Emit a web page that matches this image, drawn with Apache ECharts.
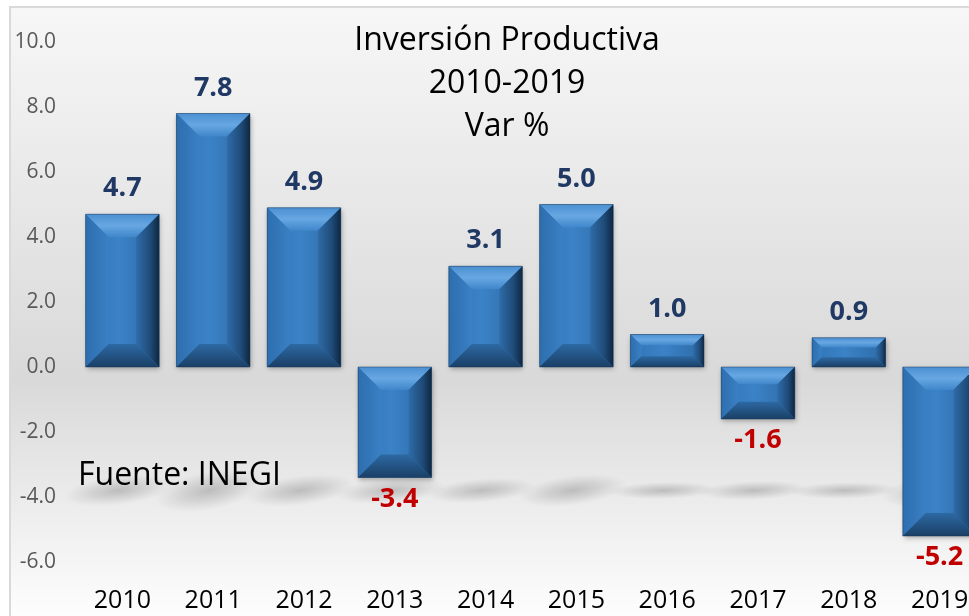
<!DOCTYPE html>
<html>
<head>
<meta charset="utf-8">
<script src="https://cdn.jsdelivr.net/npm/echarts@6/dist/echarts.min.js"></script>
<style>
  html, body { margin: 0; padding: 0; background: #fff; }
  #chart { width: 969px; height: 616px; }
</style>
</head>
<body>
<div id="chart"></div>
<script>
var years = ["2010", "2011", "2012", "2013", "2014", "2015", "2016", "2017", "2018", "2019"];
var values = [4.7, 7.8, 4.9, -3.4, 3.1, 5.0, 1.0, -1.6, 0.9, -5.2];
var yTicks = [-6, -4, -2, 0, 2, 4, 6, 8, 10];

var chart = echarts.init(document.getElementById("chart"));
var FONT = "'Open Sans', Lato, sans-serif";
var LG = echarts.graphic.LinearGradient;
var RG = echarts.graphic.RadialGradient;

// bevelled bar, roughly like the excel 3d look
function renderBar(params, api) {
  var idx = api.value(0);
  var v = api.value(1);
  var top = api.coord([idx, Math.max(v, 0)]);
  var bot = api.coord([idx, Math.min(v, 0)]);
  var w = api.size([1, 0])[0] * 0.81;
  var x0 = top[0] - w / 2, x1 = top[0] + w / 2;
  var y0 = top[1], y1 = bot[1];
  var h = y1 - y0;
  var d = Math.min(23, h / 3);
  var poly = function (pts, fill) {
    return { type: "polygon", shape: { points: pts }, style: { fill: fill } };
  };
  var positive = v >= 0;
  var label = {
    type: "text",
    style: {
      text: v.toFixed(1),
      x: top[0],
      y: positive ? y0 - 12 : y1 + 8,
      align: "center",
      verticalAlign: positive ? "bottom" : "top",
      font: "bold 27px " + FONT,
      fill: positive ? "#1f3864" : "#c00000"
    }
  };
  return {
    type: "group",
    children: [
      {
        type: "rect",
        shape: { x: x0, y: y0, width: w, height: h },
        style: {
          fill: new LG(0, 0, 1, 0, [
            { offset: 0, color: "#3074b6" },
            { offset: 0.45, color: "#3b82c6" },
            { offset: 1, color: "#2c6aa6" }
          ]),
          shadowBlur: 5,
          shadowColor: "rgba(0,0,0,0.3)",
          shadowOffsetX: 1,
          shadowOffsetY: 2
        }
      },
      poly([[x0, y0], [x1, y0], [x1 - d, y0 + d], [x0 + d, y0 + d]],
        new LG(0, 0, 0, 1, [{ offset: 0, color: "#4c90d2" }, { offset: 0.5, color: "#67a7e2" }, { offset: 1, color: "#3f86ca" }])),
      poly([[x0, y0], [x0 + d, y0 + d], [x0 + d, y1 - d], [x0, y1]],
        new LG(0, 0, 1, 0, [{ offset: 0, color: "#2d6eae" }, { offset: 1, color: "#3a80c4" }])),
      poly([[x1, y0], [x1 - d, y0 + d], [x1 - d, y1 - d], [x1, y1]],
        new LG(0, 0, 1, 0, [{ offset: 0, color: "#2f6ca8" }, { offset: 0.6, color: "#1f4c7a" }, { offset: 1, color: "#0f2740" }])),
      poly([[x0, y1], [x0 + d, y1 - d], [x1 - d, y1 - d], [x1, y1]],
        new LG(0, 0, 0, 1, [{ offset: 0, color: "#2d69a3" }, { offset: 1, color: "#1a3f66" }])),
      {
        type: "rect",
        shape: { x: x0, y: y0, width: w, height: h },
        style: { fill: "none", stroke: "rgba(20,50,80,0.45)", lineWidth: 1 }
      },
      label
    ]
  };
}

// soft floor shadow under each bar (circle stretched sideways)
function renderShadow(params, api) {
  var idx = api.value(0);
  var v = Math.abs(api.value(1));
  var c = api.coord([idx, -3.8]);
  var w = api.size([1, 0])[0] * 0.81;
  var ry = 7 + v * 1.6;
  var rx = w * 0.75;
  return {
    type: "circle",
    shape: { cx: c[0] - 4, cy: c[1], r: ry },
    scaleX: rx / ry,
    rotation: v * 0.025,
    originX: c[0] - 4,
    originY: c[1],
    style: {
      fill: new RG(0.5, 0.5, 0.5, [
        { offset: 0, color: "rgba(120,120,120,0.4)" },
        { offset: 0.5, color: "rgba(130,130,130,0.22)" },
        { offset: 1, color: "rgba(150,150,150,0)" }
      ])
    }
  };
}

chart.setOption({
  animation: false,
  graphic: [
    {
      type: "rect",
      z: -10,
      silent: true,
      shape: { x: 10, y: 7, width: 970, height: 620 },
      style: {
        fill: new LG(0, 0, 0, 1, [
          { offset: 0, color: "#f7f7f7" },
          { offset: 0.6, color: "#d9d9d9" },
          { offset: 1, color: "#ffffff" }
        ]),
        stroke: "#d9d9d9",
        lineWidth: 2
      }
    },
    {
      type: "text",
      left: 78,
      top: 460,
      z: 10,
      style: {
        text: "Fuente: INEGI",
        font: "32px " + FONT,
        fill: "#000"
      }
    }
  ],
  title: {
    text: "Inversión Productiva\n2010-2019\nVar %",
    left: 502,
    top: 14,
    textAlign: "center",
    textStyle: {
      fontFamily: FONT,
      fontSize: 32,
      fontWeight: "normal",
      color: "#000",
      lineHeight: 43
    }
  },
  grid: { left: 77, width: 908, top: 42, bottom: 54, outerBoundsMode: "none" },
  xAxis: {
    type: "category",
    data: years,
    axisLine: { show: false },
    axisTick: { show: false },
    axisLabel: {
      fontFamily: FONT,
      fontSize: 25,
      color: "#000",
      margin: 26
    }
  },
  yAxis: {
    type: "value",
    min: yTicks[0],
    max: yTicks[yTicks.length - 1],
    interval: 2,
    splitLine: { show: false },
    axisLine: { show: false },
    axisTick: { show: false },
    axisLabel: {
      fontFamily: FONT,
      fontSize: 21,
      color: "#595959",
      margin: 21,
      formatter: function (v) { return v.toFixed(1); }
    }
  },
  series: [
    {
      type: "custom",
      z: 1,
      silent: true,
      renderItem: renderShadow,
      data: values.map(function (v, i) { return [i, v]; }),
      encode: { x: 0, y: 1 },
      clip: false
    },
    {
      type: "custom",
      z: 2,
      renderItem: renderBar,
      data: values.map(function (v, i) { return [i, v]; }),
      encode: { x: 0, y: 1 },
      clip: false
    }
  ]
});
</script>
</body>
</html>
